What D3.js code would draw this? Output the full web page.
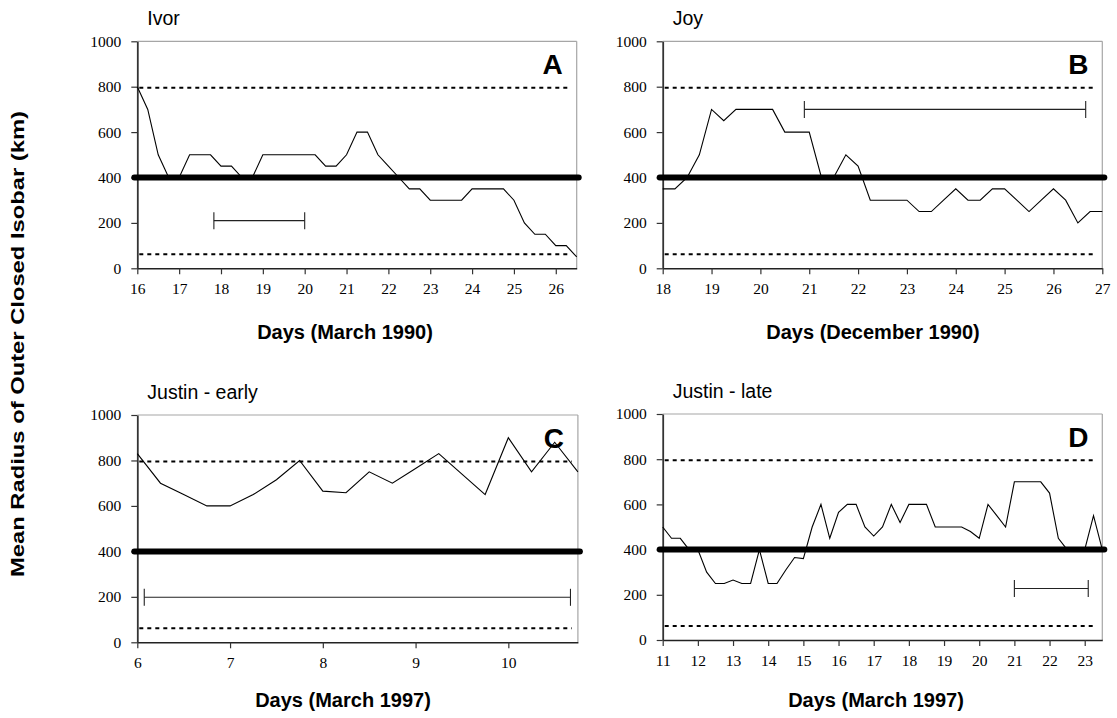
<!DOCTYPE html>
<html>
<head>
<meta charset="utf-8">
<script src="https://cdn.jsdelivr.net/npm/d3@7"></script>
<style>
  html, body { margin: 0; padding: 0; background: #fff; }
  svg { display: block; }
</style>
</head>
<body>
<svg id="chart" width="1117" height="718"></svg>
<script>
// ---------------- DATA ----------------
const yTicks = [0, 200, 400, 600, 800, 1000];

const ivorDays = [16, 16.25, 16.5, 16.75, 17, 17.25, 17.5, 17.75, 18, 18.25, 18.5, 18.75, 19, 19.25, 19.5, 19.75, 20, 20.25, 20.5, 20.75, 21, 21.25, 21.5, 21.75, 22, 22.25, 22.5, 22.75, 23, 23.25, 23.5, 23.75, 24, 24.25, 24.5, 24.75, 25, 25.25, 25.5, 25.75, 26, 26.25, 26.5];
const ivorRadius = [800, 700, 500, 400, 400, 500, 500, 500, 450, 450, 400, 400, 500, 500, 500, 500, 500, 500, 450, 450, 500, 600, 600, 500, 450, 400, 350, 350, 300, 300, 300, 300, 350, 350, 350, 350, 300, 200, 150, 150, 100, 100, 50];
const ivorTicks = [16, 17, 18, 19, 20, 21, 22, 23, 24, 25, 26];
const ivorBar = [17.83, 20.0, 210];

const joyDays = [18, 18.25, 18.5, 18.75, 19, 19.25, 19.5, 19.75, 20, 20.25, 20.5, 20.75, 21, 21.25, 21.5, 21.75, 22, 22.25, 22.5, 22.75, 23, 23.25, 23.5, 23.75, 24, 24.25, 24.5, 24.75, 25, 25.25, 25.5, 25.75, 26, 26.25, 26.5, 26.75, 27];
const joyRadius = [350, 350, 400, 500, 700, 650, 700, 700, 700, 700, 600, 600, 600, 400, 400, 500, 450, 300, 300, 300, 300, 250, 250, 300, 350, 300, 300, 350, 350, 300, 250, 300, 350, 300, 200, 250, 250];
const joyTicks = [18, 19, 20, 21, 22, 23, 24, 25, 26, 27];
const joyBar = [20.9, 26.66, 700];

const earlyDays = [6, 6.25, 6.5, 6.75, 7, 7.25, 7.5, 7.75, 8, 8.25, 8.5, 8.75, 9, 9.25, 9.5, 9.75, 10, 10.25, 10.5, 10.75];
const earlyRadius = [830, 700, 650, 600, 600, 650, 715, 800, 665, 658, 750, 700, 765, 830, 740, 650, 900, 750, 880, 750];
const earlyTicks = [6, 7, 8, 9, 10];
const earlyBar = [6.075, 10.67, 198];

const lateDays = [11, 11.25, 11.5, 11.75, 12, 12.25, 12.5, 12.75, 13, 13.25, 13.5, 13.75, 14, 14.25, 14.5, 14.75, 15, 15.25, 15.5, 15.75, 16, 16.25, 16.5, 16.75, 17, 17.25, 17.5, 17.75, 18, 18.25, 18.5, 18.75, 19, 19.25, 19.5, 19.75, 20, 20.25, 20.5, 20.75, 21, 21.25, 21.5, 21.75, 22, 22.25, 22.5, 22.75, 23, 23.25, 23.5];
const lateRadius = [500, 450, 450, 400, 400, 300, 250, 250, 265, 250, 250, 400, 250, 250, 310, 365, 360, 500, 600, 450, 565, 600, 600, 500, 460, 500, 600, 520, 600, 600, 600, 500, 500, 500, 500, 480, 450, 600, 550, 500, 700, 700, 700, 700, 650, 450, 400, 400, 400, 550, 400];
const lateTicks = [11, 12, 13, 14, 15, 16, 17, 18, 19, 20, 21, 22, 23];
const lateBar = [21.0, 23.1, 228];

const thickLevel = 400;
const upperDashed = 795;
const lowerDashed = 62;

const titles = ["Ivor", "Joy", "Justin - early", "Justin - late"];
const letters = ["A", "B", "C", "D"];
const xLabels = ["Days (March 1990)", "Days (December 1990)", "Days (March 1997)", "Days (March 1997)"];
const yLabel = "Mean Radius of Outer Closed Isobar (km)";

// ---------------- LAYOUT ----------------
const layout = [
  { left: 137.3, right: 576.7, top: 41.3, bottom: 268.3, domain: [16, 26.5], days: ivorDays, radius: ivorRadius, ticks: ivorTicks, bar: ivorBar, xlabX: 345, xlabY: 339 },
  { left: 662.7, right: 1102.3, top: 41.3, bottom: 268.3, domain: [18, 27], days: joyDays, radius: joyRadius, ticks: joyTicks, bar: joyBar, xlabX: 873, xlabY: 339 },
  { left: 137.3, right: 577.9, top: 415, bottom: 642.3, domain: [6, 10.75], days: earlyDays, radius: earlyRadius, ticks: earlyTicks, bar: earlyBar, xlabX: 343, xlabY: 707 },
  { left: 662.7, right: 1102.3, top: 414, bottom: 640, domain: [11, 23.5], days: lateDays, radius: lateRadius, ticks: lateTicks, bar: lateBar, xlabX: 876, xlabY: 707 }
];

const svg = d3.select("#chart");
const sans = "Arial, 'Liberation Sans', Helvetica, sans-serif";
const serif = "'Liberation Serif', 'Times New Roman', 'DejaVu Serif', serif";

layout.forEach((p, i) => {
  const x = d3.scaleLinear().domain(p.domain).range([p.left, p.right]);
  const y = d3.scaleLinear().domain([0, 1000]).range([p.bottom, p.top]);
  const g = svg.append("g");

  // frame top / right (light grey)
  g.append("line").attr("x1", x(p.domain[0])).attr("x2", x(p.domain[1]))
    .attr("y1", y(1000)).attr("y2", y(1000))
    .attr("stroke", "#a6a6a6").attr("stroke-width", 1.2);
  g.append("line").attr("x1", x(p.domain[1])).attr("x2", x(p.domain[1]))
    .attr("y1", y(1000)).attr("y2", y(0))
    .attr("stroke", "#a6a6a6").attr("stroke-width", 1.2);

  // dashed reference lines
  [upperDashed, lowerDashed].forEach(v => {
    g.append("line").attr("x1", x(p.domain[0]) + 2).attr("x2", x(p.domain[1]) - 6)
      .attr("y1", y(v)).attr("y2", y(v))
      .attr("stroke", "#000").attr("stroke-width", 2)
      .attr("stroke-dasharray", "4,4");
  });

  // y axis
  const yAxis = d3.axisLeft(y).tickValues(yTicks).tickSize(6).tickSizeOuter(0).tickPadding(10)
    .tickFormat(d3.format("d"));
  const ya = g.append("g").attr("transform", `translate(${x(p.domain[0])},0)`).call(yAxis);
  ya.select(".domain").attr("stroke", "#333").attr("stroke-width", 1.8);
  ya.selectAll(".tick line").attr("stroke", "#333").attr("stroke-width", 1.2);
  ya.selectAll(".tick text").attr("font-family", serif).attr("font-size", 15.5).attr("fill", "#000");

  // x axis
  const xAxis = d3.axisBottom(x).tickValues(p.ticks).tickSize(6).tickSizeOuter(0).tickPadding(9)
    .tickFormat(d3.format("d"));
  const xa = g.append("g").attr("transform", `translate(0,${y(0)})`).call(xAxis);
  xa.select(".domain").attr("stroke", "#222").attr("stroke-width", 1.5);
  xa.selectAll(".tick line").attr("stroke", "#333").attr("stroke-width", 1.2);
  xa.selectAll(".tick text").attr("font-family", serif).attr("font-size", 15.5).attr("fill", "#000");

  // thick 400 line
  g.append("line").attr("x1", x(p.domain[0]) - 3).attr("x2", x(p.domain[1]) + 2)
    .attr("y1", y(thickLevel)).attr("y2", y(thickLevel))
    .attr("stroke", "#000").attr("stroke-width", 6).attr("stroke-linecap", "round");

  // data line
  const line = d3.line().x(d => x(d[0])).y(d => y(d[1]));
  g.append("path").datum(d3.zip(p.days, p.radius))
    .attr("d", line).attr("fill", "none")
    .attr("stroke", "#000").attr("stroke-width", 1.1);

  // error bar
  const [b0, b1, bv] = p.bar;
  g.append("line").attr("x1", x(b0)).attr("x2", x(b1)).attr("y1", y(bv)).attr("y2", y(bv))
    .attr("stroke", "#222").attr("stroke-width", 1.1);
  [b0, b1].forEach(bx => {
    g.append("line").attr("x1", x(bx)).attr("x2", x(bx))
      .attr("y1", y(bv) - 8.5).attr("y2", y(bv) + 8.5)
      .attr("stroke", "#222").attr("stroke-width", 1.1);
  });

  // title
  g.append("text").attr("x", x(p.domain[0]) + 10).attr("y", y(1000) - 16)
    .attr("font-family", sans).attr("font-size", 19.5).attr("fill", "#000")
    .text(titles[i]);

  // panel letter
  g.append("text").attr("x", x(p.domain[1]) - 24).attr("y", y(1000) + 33)
    .attr("text-anchor", "middle")
    .attr("font-family", sans).attr("font-size", 28).attr("font-weight", "bold").attr("fill", "#000")
    .text(letters[i]);

  // x-axis label
  g.append("text").attr("x", p.xlabX).attr("y", p.xlabY)
    .attr("text-anchor", "middle")
    .attr("font-family", sans).attr("font-size", 20).attr("font-weight", "bold").attr("fill", "#000")
    .text(xLabels[i]);
});

// shared y label
svg.append("text")
  .attr("transform", "translate(24,344) rotate(-90)")
  .attr("text-anchor", "middle")
  .attr("font-family", sans).attr("font-size", 19).attr("font-weight", "bold").attr("fill", "#000")
  .attr("textLength", 466).attr("lengthAdjust", "spacingAndGlyphs")
  .text(yLabel);
</script>
</body>
</html>
